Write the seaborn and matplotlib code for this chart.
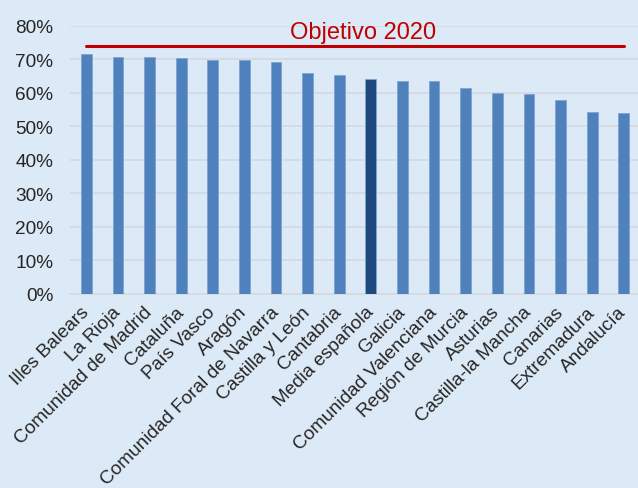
import matplotlib
matplotlib.use("Agg")
import pandas as pd
import seaborn as sns
from matplotlib import pyplot as plt
from matplotlib.ticker import PercentFormatter

regiones = ["Illes Balears", "La Rioja", "Comunidad de Madrid", "Cataluña", "País Vasco",
            "Aragón", "Comunidad Foral de Navarra", "Castilla y León", "Cantabria",
            "Media española", "Galicia", "Comunidad Valenciana", "Región de Murcia",
            "Asturias", "Castilla-la Mancha", "Canarias", "Extremadura", "Andalucía"]
tasa = [71.6, 70.8, 70.8, 70.3, 69.9, 69.9, 69.3, 66.0, 65.4, 64.1, 63.5, 63.5,
        61.5, 60.1, 59.7, 57.8, 54.3, 54.0]
objetivo = 74.0

df = pd.DataFrame({"region": regiones, "tasa": tasa})

fondo = "#DCE9F6"
colores = ["#1F497D" if r == "Media española" else "#4F81BD" for r in regiones]

sns.set_style("white")
plt.rcParams["font.family"] = ["Liberation Sans", "DejaVu Sans"]

fig = plt.figure(figsize=(6.38, 4.89), dpi=100, facecolor=fondo)
ax = fig.add_axes([0.1105, 0.397, 0.8895, 0.548])
ax.set_facecolor(fondo)

sns.barplot(data=df, x="region", y="tasa", hue="region", palette=colores, saturation=1,
            width=0.34, edgecolor="#7FA3D3", linewidth=0.6, legend=False, ax=ax, zorder=3)

# linea objetivo 2020
ax.plot([0, 17], [objetivo, objetivo], color="#C00000", lw=2.2, zorder=4)
ax.text(8.75, 78.1, "Objetivo 2020", color="#C00000", fontsize=17, ha="center", va="center")

ax.set_ylim(0, 80)
ax.set_xlim(-0.5, 17.45)
ax.set_yticks(range(0, 81, 10))
ax.yaxis.set_major_formatter(PercentFormatter(decimals=0))
ax.grid(axis="y", color="#D4D9DE", lw=1.2, zorder=0)
ax.set_axisbelow(True)
for s in ["top", "right", "left"]:
    ax.spines[s].set_visible(False)
ax.spines["bottom"].set_color("#D4D9DE")
ax.spines["bottom"].set_linewidth(1.2)
ax.set_xlabel("")
ax.set_ylabel("")
ax.tick_params(axis="y", labelsize=13.7, length=0, pad=12.5)
ax.tick_params(axis="x", labelsize=13.7, length=0, pad=11)
plt.setp(ax.get_xticklabels(), rotation=45, ha="right", va="center", rotation_mode="anchor")

fig.savefig("out.png", dpi=100, facecolor=fondo)
